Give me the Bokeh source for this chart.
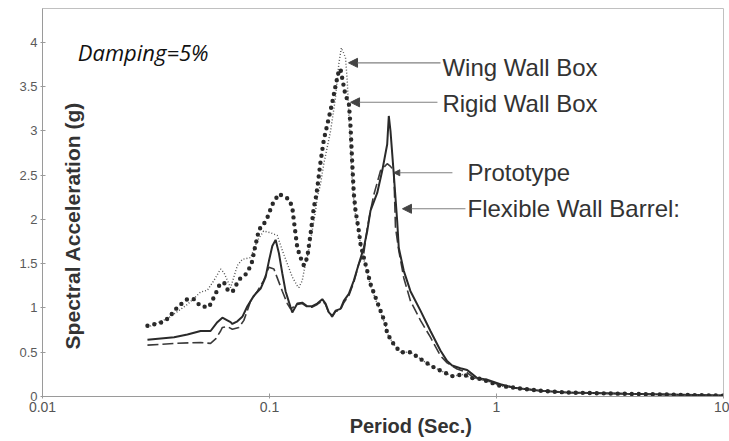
import math
from bokeh.plotting import figure
from bokeh.models import Range1d, FixedTicker, CustomJSTickFormatter, Label, Arrow, NormalHead
from bokeh.embed import file_html
from bokeh.resources import INLINE

# ---- data (period in s, spectral acceleration in g) ----
proto_T = [0.029, 0.038, 0.0435, 0.0497, 0.055, 0.0589, 0.062, 0.0652, 0.0674, 0.0686, 0.0722,
           0.0759, 0.0799, 0.0854, 0.0914, 0.0961, 0.0994, 0.1029, 0.1064, 0.110, 0.1139, 0.1177,
           0.1238, 0.126, 0.1326, 0.1394, 0.1467, 0.1543, 0.1623, 0.1708, 0.1766, 0.1826, 0.189,
           0.1954, 0.2055, 0.2125, 0.2236, 0.2352, 0.2475, 0.2603, 0.2695, 0.2786, 0.2881, 0.2982,
           0.3137, 0.330, 0.3354, 0.3412, 0.3528, 0.3652, 0.3711, 0.3904, 0.4178, 0.4624, 0.5117,
           0.5662, 0.6061, 0.6377, 0.6936, 0.7423, 0.7677, 0.8215, 0.9092, 1.04, 1.191, 1.561,
           2.045, 3.757, 10.0]
proto_Sa = [0.64, 0.67, 0.70, 0.74, 0.74, 0.84, 0.89, 0.86, 0.84, 0.82, 0.85,
            0.90, 1.02, 1.14, 1.22, 1.35, 1.53, 1.70, 1.77, 1.62, 1.39, 1.19,
            1.01, 0.95, 1.05, 1.06, 1.02, 1.02, 1.05, 1.10, 1.05, 0.95, 0.91,
            0.97, 0.99, 1.08, 1.16, 1.31, 1.50, 1.68, 1.87, 2.10, 2.20, 2.30,
            2.55, 2.85, 3.17, 3.00, 2.51, 1.98, 1.68, 1.42, 1.19, 0.97, 0.74,
            0.52, 0.40, 0.35, 0.32, 0.30, 0.27, 0.21, 0.19, 0.14, 0.10, 0.065,
            0.045, 0.03, 0.01]

flex_T = [0.029, 0.038, 0.0497, 0.055, 0.0579, 0.0609, 0.062, 0.0652, 0.0686, 0.0733, 0.0771,
          0.0826, 0.0884, 0.0942, 0.0994, 0.1046, 0.1082, 0.1139, 0.1198, 0.1238, 0.1326, 0.1394,
          0.1467, 0.1543, 0.1623, 0.1708, 0.1766, 0.1826, 0.189, 0.1954, 0.2055, 0.2125, 0.2236,
          0.2352, 0.2475, 0.2603, 0.2695, 0.2786, 0.2881, 0.3083, 0.330, 0.3412, 0.3528, 0.3589,
          0.3711, 0.3904, 0.4178, 0.4624, 0.5117, 0.5662, 0.6061, 0.6707, 0.7423, 0.7937, 0.9092,
          1.04, 1.191, 1.561, 2.045, 3.757, 10.0]
flex_Sa = [0.58, 0.60, 0.61, 0.60, 0.65, 0.74, 0.78, 0.79, 0.76, 0.78, 0.86,
           1.08, 1.19, 1.31, 1.46, 1.44, 1.34, 1.19, 1.05, 0.99, 1.04, 1.05,
           1.01, 1.01, 1.04, 1.08, 1.04, 0.94, 0.90, 0.96, 0.98, 1.06, 1.14,
           1.29, 1.50, 1.62, 1.90, 2.10, 2.28, 2.55, 2.63, 2.60, 2.55, 1.91,
           1.65, 1.34, 1.08, 0.86, 0.67, 0.46, 0.38, 0.31, 0.27, 0.21, 0.18,
           0.13, 0.10, 0.065, 0.045, 0.03, 0.01]

wing_T = [0.029, 0.036, 0.0435, 0.0497, 0.0532, 0.0569, 0.0609, 0.063, 0.0674, 0.0722, 0.0759,
          0.0826, 0.0884, 0.0942, 0.1011, 0.1082, 0.1139, 0.1198, 0.126, 0.1326, 0.1347, 0.1394,
          0.1442, 0.1467, 0.1517, 0.1543, 0.1596, 0.1623, 0.1678, 0.1735, 0.1858, 0.1954, 0.202,
          0.2073, 0.2162, 0.220, 0.2236, 0.2275, 0.2315, 0.2352, 0.2393, 0.2475, 0.2518, 0.2603,
          0.2695, 0.2786, 0.2931, 0.3083, 0.3243, 0.330, 0.3528, 0.3776, 0.4178, 0.4782, 0.5291,
          0.6377, 0.7171, 0.7677, 0.8492, 1.04, 1.274, 1.561, 2.045, 3.757, 10.0]
wing_Sa = [0.78, 0.89, 1.04, 1.18, 1.20, 1.31, 1.44, 1.40, 1.23, 1.48, 1.55,
           1.57, 1.76, 1.87, 1.85, 1.82, 1.65, 1.50, 1.35, 1.25, 1.23, 1.31,
           1.51, 1.57, 1.76, 1.88, 2.10, 2.25, 2.40, 2.63, 3.00, 3.38, 3.76,
           3.94, 3.83, 3.57, 3.19, 2.81, 2.44, 2.21, 2.05, 1.85, 1.72, 1.55,
           1.40, 1.25, 1.10, 0.95, 0.80, 0.71, 0.59, 0.50, 0.50, 0.40, 0.33,
           0.23, 0.25, 0.21, 0.20, 0.12, 0.09, 0.065, 0.045, 0.03, 0.01]

rigid_T = [0.029, 0.0315, 0.0338, 0.0361, 0.038, 0.0406, 0.0435, 0.0465, 0.0497, 0.0541, 0.0579,
           0.0599, 0.063, 0.0652, 0.0686, 0.0709, 0.0746, 0.0785, 0.0812, 0.084, 0.0854, 0.0869,
           0.0884, 0.0898, 0.093, 0.0978, 0.1029, 0.110, 0.1177, 0.1217, 0.126, 0.128, 0.1302,
           0.1326, 0.137, 0.1417, 0.1467, 0.1491, 0.1517, 0.1543, 0.1568, 0.1596, 0.1623, 0.1678,
           0.1735, 0.1826, 0.189, 0.1954, 0.202, 0.2055, 0.2162, 0.2236, 0.2275, 0.2315, 0.2352,
           0.2393, 0.2475, 0.2518, 0.2603, 0.2695, 0.2786, 0.2931, 0.3083, 0.3243, 0.330, 0.3528,
           0.3776, 0.4178, 0.4782, 0.5291, 0.6377, 0.7171, 0.7677, 0.8492, 1.04, 1.274, 1.561,
           2.045, 3.757, 10.0]
rigid_Sa = [0.80, 0.82, 0.84, 0.89, 0.97, 1.04, 1.10, 1.10, 1.02, 1.01, 1.16,
            1.25, 1.29, 1.21, 1.18, 1.25, 1.34, 1.38, 1.44, 1.53, 1.63, 1.72,
            1.80, 1.89, 1.92, 2.02, 2.17, 2.29, 2.25, 2.23, 2.14, 1.99, 1.84,
            1.68, 1.57, 1.48, 1.57, 1.70, 1.84, 1.99, 2.14, 2.23, 2.35, 2.65,
            2.90, 3.15, 3.32, 3.51, 3.68, 3.70, 3.40, 3.32, 3.05, 2.63, 2.29,
            2.10, 1.87, 1.72, 1.57, 1.42, 1.27, 1.12, 0.97, 0.82, 0.71, 0.59,
            0.50, 0.50, 0.40, 0.33, 0.23, 0.25, 0.21, 0.20, 0.12, 0.09, 0.065,
            0.045, 0.03, 0.01]

x_ticks = [0.01, 0.1, 1, 10]
y_ticks = [0, 0.5, 1, 1.5, 2, 2.5, 3, 3.5, 4]

FONT = "Liberation Sans"

p = figure(width=729, height=441, x_axis_type="log", output_backend="svg",
           toolbar_location=None, x_range=Range1d(0.01, 10), y_range=Range1d(0, 4.384),
           min_border_left=42, min_border_right=6, min_border_top=8, min_border_bottom=45)
p.background_fill_color = "white"
p.border_fill_color = "white"
p.outline_line_color = "#c0c0c0"
p.xgrid.visible = False
p.ygrid.visible = False

for ax in (p.xaxis[0], p.yaxis[0]):
    ax.axis_line_color = "#9a9a9a"
    ax.major_tick_line_color = "#9a9a9a"
    ax.minor_tick_line_color = None
    ax.major_tick_in = 3
    ax.major_tick_out = 2
    ax.major_label_text_font = FONT
    ax.formatter = CustomJSTickFormatter(code="return tick.toString();")
p.xaxis.ticker = FixedTicker(ticks=x_ticks)
p.yaxis.ticker = FixedTicker(ticks=y_ticks)
p.xaxis.major_label_text_font_size = "14px"
p.xaxis.major_label_text_color = "#555555"
p.yaxis.major_label_text_font_size = "13px"
p.yaxis.major_label_text_color = "#5a5a5a"
p.xaxis.major_label_standoff = 3
p.yaxis.major_label_standoff = 3

p.xaxis.axis_label = "\u00a0" * 10 + "Period (Sec.)"
p.xaxis.axis_label_text_font = FONT
p.xaxis.axis_label_text_font_size = "20px"
p.xaxis.axis_label_text_font_style = "bold"
p.xaxis.axis_label_text_color = "#333333"
p.xaxis.axis_label_standoff = 0

# series
p.line(flex_T, flex_Sa, line_color="#3a3a3a", line_width=1.6, line_dash="11 4")
p.line(proto_T, proto_Sa, line_color="#2a2a2a", line_width=2.0)
p.line(wing_T, wing_Sa, line_color="#555555", line_width=1.4, line_dash="1 2")
p.line(rigid_T, rigid_Sa, line_color="#2a2a2a", line_width=4.4, line_dash="0 7",
       line_cap="round")

# annotations
def arrow(x0, y0, x1, y1, size=9):
    p.add_layout(Arrow(x_start=x0, y_start=y0, x_end=x1, y_end=y1,
                       line_color="#808080", line_width=1.1,
                       end=NormalHead(size=size, fill_color="#444444", line_color="#444444")))

arrow(0.5665, 3.77, 0.2229, 3.77)
arrow(0.5494, 3.324, 0.2275, 3.324)
arrow(0.6395, 2.528, 0.3528, 2.528, size=6)
arrow(0.7298, 2.121, 0.3853, 2.121)

def lab(x, y, t, size="24px", style="normal", color="#333333", angle=0.0, align="left", font=FONT):
    p.add_layout(Label(x=x, y=y, text=t, text_font=font, text_font_size=size,
                       text_font_style=style, text_color=color, angle=angle,
                       text_align=align, text_baseline="middle"))

lab(0.578, 3.714, "Wing Wall Box")
lab(0.578, 3.307, "Rigid Wall Box")
lab(0.745, 2.528, "Prototype")
lab(0.745, 2.121, "Flexible Wall Barrel:")
lab(0.0143, 3.895, "Damping=5%", size="22px", style="italic", color="#111111", font="Open Sans")
lab(0.0136, 1.963, "Spectral  Acceleration (g)", size="21px", style="bold", color="#333333",
    angle=math.pi / 2, align="center")

open("out.html", "w").write(file_html(p, INLINE))
